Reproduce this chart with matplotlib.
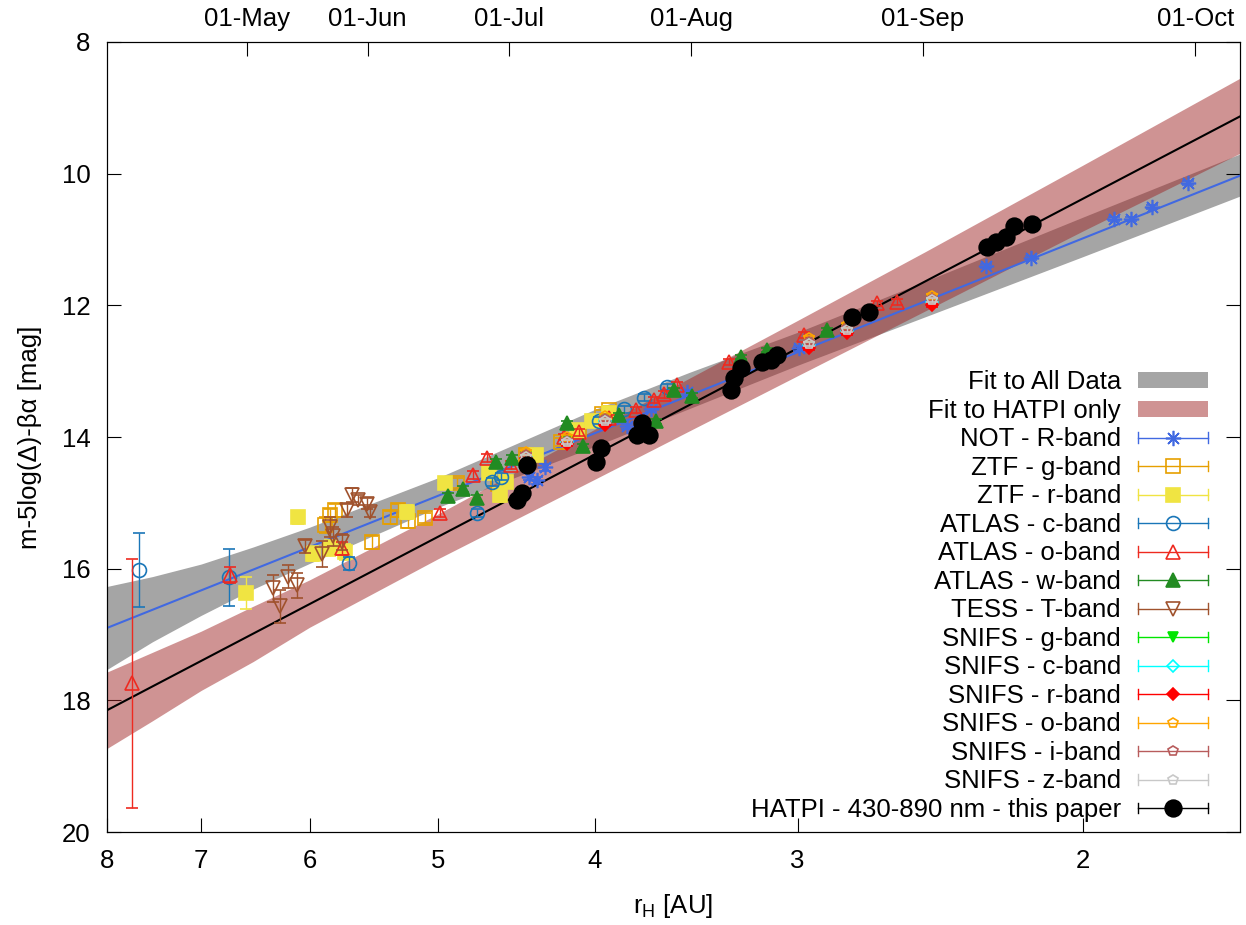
import matplotlib
matplotlib.use('Agg')
import matplotlib.pyplot as plt
from matplotlib.lines import Line2D
from matplotlib.patches import Patch
from matplotlib.legend_handler import HandlerLine2D
from matplotlib.ticker import FixedLocator, FixedFormatter, NullLocator

plt.rcParams['font.family'] = ['Liberation Sans', 'DejaVu Sans']
plt.rcParams['mathtext.fontset'] = 'custom'
plt.rcParams['mathtext.rm'] = 'Liberation Sans'
plt.rcParams['font.size'] = 18.5

# ---- fits (lines and confidence bands) ----
line_r = [8.0, 1.6]
all_line_m = [16.90, 10.03]
hat_line_m = [18.15, 9.13]

band_r = [8, 7.5, 7, 6.5, 6, 5, 4, 3.5, 3, 2.5, 2, 1.6]
all_hi = [16.27, 16.12, 15.93, 15.67, 15.37, 14.62, 13.58, 13.02, 12.41, 11.63, 10.66, 9.70]
all_lo = [17.53, 17.11, 16.71, 16.31, 15.92, 15.07, 14.14, 13.57, 12.91, 12.17, 11.26, 10.34]
hat_hi = [17.57, 17.27, 16.95, 16.57, 16.17, 15.17, 13.88, 13.11, 12.23, 11.18, 9.87, 8.55]
hat_lo = [18.73, 18.31, 17.85, 17.41, 16.89, 15.85, 14.64, 13.91, 13.07, 12.08, 10.87, 9.69]

# ---- observations ----
not_r = [4.390, 4.341, 4.292, 3.821, 3.693, 3.509, 2.994, 2.296, 2.154, 1.915, 1.867, 1.814, 1.722]
not_m = [14.60, 14.66, 14.46, 13.84, 13.58, 13.32, 12.65, 11.40, 11.28, 10.69, 10.69, 10.51, 10.14]
not_e = [0.05, 0.05, 0.05, 0.04, 0.04, 0.04, 0.04, 0.03, 0.03, 0.03, 0.03, 0.03, 0.03]

ztfg_r = [5.872, 5.831, 5.790, 5.494, 5.355, 5.295, 5.220, 5.096, 4.863, 4.594, 4.409, 4.196, 4.090, 3.959, 3.920]
ztfg_m = [15.34, 15.19, 15.11, 15.60, 15.22, 15.11, 15.28, 15.23, 14.70, 14.72, 14.28, 14.08, 13.91, 13.65, 13.59]
ztfg_e = [0.12, 0.10, 0.10, 0.10, 0.10, 0.10, 0.10, 0.08, 0.08, 0.08, 0.06, 0.06, 0.06, 0.06, 0.06]

ztfr_r = [6.568, 6.101, 5.973, 5.831, 5.708, 5.228, 4.953, 4.647, 4.581, 4.536, 4.347, 4.102, 4.015, 3.920]
ztfr_m = [16.37, 15.22, 15.77, 15.69, 15.75, 15.14, 14.70, 14.55, 14.88, 14.69, 14.28, 13.90, 13.76, 13.64]
ztfr_e = [0.24, 0.10, 0.12, 0.12, 0.12, 0.10, 0.08, 0.08, 0.10, 0.08, 0.08, 0.06, 0.06, 0.06]

atc_r = [7.645, 6.729, 5.676, 4.727, 4.627, 4.569, 3.976, 3.837, 3.730, 3.610]
atc_m = [16.02, 16.13, 15.92, 15.16, 14.69, 14.60, 13.75, 13.58, 13.40, 13.24]
atc_e = [0.56, 0.43, 0.10, 0.06, 0.06, 0.06, 0.05, 0.05, 0.05, 0.05]

ato_r = [7.721, 6.719, 5.732, 4.988, 4.760, 4.660, 4.504, 4.178, 4.090, 3.920,
         3.772, 3.677, 3.625, 3.559, 3.306, 2.973, 2.680, 2.605]
ato_m = [17.74, 16.10, 15.69, 15.16, 14.58, 14.32, 14.43, 14.00, 13.93, 13.71,
         13.59, 13.44, 13.35, 13.21, 12.86, 12.45, 11.97, 11.95]
ato_e = [1.89, 0.12, 0.10, 0.06, 0.06, 0.06, 0.06, 0.05, 0.05, 0.05,
         0.05, 0.05, 0.05, 0.05, 0.04, 0.04, 0.04, 0.04]

atw_r = [4.932, 4.828, 4.733, 4.601, 4.498, 4.160, 4.067, 3.864, 3.667, 3.574, 3.484, 3.250, 3.133, 2.877]
atw_m = [14.90, 14.79, 14.93, 14.38, 14.32, 13.79, 14.14, 13.67, 13.76, 13.29, 13.37, 12.79, 12.68, 12.38]
atw_e = [0.05, 0.05, 0.05, 0.05, 0.05, 0.04, 0.04, 0.04, 0.04, 0.04, 0.04, 0.03, 0.03, 0.03]

tess_r = [6.322, 6.259, 6.189, 6.110, 6.041, 5.897, 5.831, 5.806, 5.732, 5.692, 5.652, 5.604, 5.533, 5.509]
tess_m = [16.30, 16.57, 16.12, 16.25, 15.66, 15.78, 15.37, 15.51, 15.60, 15.11, 14.88, 14.96, 15.01, 15.14]
tess_e = [0.21, 0.25, 0.17, 0.19, 0.10, 0.20, 0.15, 0.15, 0.12, 0.10, 0.10, 0.08, 0.08, 0.08]

snifs_r = [4.409, 4.160, 3.942, 2.952, 2.797, 2.479]
snifs_g = [14.29, 14.06, 13.73, 12.59, 12.38, 11.94]
snifs_c = [14.31, 14.08, 13.76, 12.60, 12.39, 11.95]
snifs_rb = [14.32, 14.11, 13.81, 12.65, 12.42, 12.00]
snifs_o = [14.23, 14.00, 13.68, 12.50, 12.30, 11.86]
snifs_i = [14.28, 14.06, 13.73, 12.56, 12.35, 11.91]
snifs_z = [14.31, 14.08, 13.75, 12.59, 12.38, 11.92]
snifs_e = [0.03, 0.03, 0.03, 0.03, 0.03, 0.03]

hat_r = [4.466, 4.434, 4.403, 3.992, 3.964, 3.767, 3.703, 3.740, 3.297, 3.283, 3.250,
         3.155, 3.115, 3.089, 2.777, 2.711, 2.293, 2.264, 2.232, 2.207, 2.151]
hat_m = [14.96, 14.85, 14.43, 14.38, 14.17, 13.97, 13.97, 13.79, 13.29, 13.11, 12.95,
         12.86, 12.83, 12.76, 12.18, 12.10, 11.12, 11.04, 10.96, 10.80, 10.77]
hat_e = [0.02] * len(hat_r)

# top axis: dates at heliocentric distance
date_r = [6.56, 5.525, 4.517, 3.489, 2.51, 1.705]
date_labels = ['01-May', '01-Jun', '01-Jul', '01-Aug', '01-Sep', '01-Oct']

series = [
    ('NOT - R-band', not_r, not_m, not_e, '#4169e1', (8, 2, 0), 'full', 11),
    ('ZTF - g-band', ztfg_r, ztfg_m, ztfg_e, '#e69f00', 's', 'none', 10),
    ('ZTF - r-band', ztfr_r, ztfr_m, ztfr_e, '#f0e442', 's', 'full', 10),
    ('ATLAS - c-band', atc_r, atc_m, atc_e, '#1a76b8', 'o', 'none', 10),
    ('ATLAS - o-band', ato_r, ato_m, ato_e, '#ee2a20', '^', 'none', 10),
    ('ATLAS - w-band', atw_r, atw_m, atw_e, '#228b22', '^', 'full', 10),
    ('TESS - T-band', tess_r, tess_m, tess_e, '#a0522d', 'v', 'none', 10),
    ('SNIFS - g-band', snifs_r, snifs_g, snifs_e, '#00e600', 'v', 'full', 7),
    ('SNIFS - c-band', snifs_r, snifs_c, snifs_e, '#00ffff', 'D', 'none', 6),
    ('SNIFS - r-band', snifs_r, snifs_rb, snifs_e, '#ff0000', 'D', 'full', 6),
    ('SNIFS - o-band', snifs_r, snifs_o, snifs_e, '#ffa500', 'p', 'none', 7),
    ('SNIFS - i-band', snifs_r, snifs_i, snifs_e, '#b85c5c', 'p', 'none', 7),
    ('SNIFS - z-band', snifs_r, snifs_z, snifs_e, '#c8c8c8', 'p', 'none', 7),
    ('HATPI - 430-890 nm - this paper', hat_r, hat_m, hat_e, 'black', 'o', 'full', 12),
]


class ErrKey(HandlerLine2D):
    # gnuplot style key: horizontal line with end caps and a centred marker
    def create_artists(self, legend, orig_handle, xdescent, ydescent,
                       width, height, fontsize, trans):
        arts = super().create_artists(legend, orig_handle, xdescent, ydescent,
                                       width, height, fontsize, trans)
        y = (height - ydescent) / 2
        h = 0.32 * height
        for x in (-xdescent, width - xdescent):
            cap = Line2D([x, x], [y - h, y + h], color=orig_handle.get_color(), lw=1)
            cap.set_transform(trans)
            arts.append(cap)
        return arts


fig = plt.figure(figsize=(12.46, 9.25), dpi=100)
ax = fig.add_axes([0.0859, 0.1005, 0.9093, 0.8541])
ax.set_xscale('log')

ax.fill_between(band_r, all_hi, all_lo, color='#a5a5a5', lw=0, zorder=1)
ax.fill_between(band_r, hat_hi, hat_lo, color='#a02828', alpha=0.5, lw=0, zorder=2)
ax.plot(line_r, all_line_m, color='#4169e1', lw=1.5, zorder=3)
ax.plot(line_r, hat_line_m, color='black', lw=1.5, zorder=3)

handles = [Patch(facecolor='#a5a5a5', edgecolor='none', label='Fit to All Data'),
           Patch(facecolor='#a02828', alpha=0.5, edgecolor='none', label='Fit to HATPI only')]
for i, (lab, r, m, e, c, mk, fill, ms) in enumerate(series):
    mfc = c if fill == 'full' else 'none'
    ax.errorbar(r, m, yerr=e, fmt='', linestyle='none', marker=mk, color=c,
                mfc=mfc, mec=c, ms=ms, mew=1.2,
                elinewidth=1, capsize=4, capthick=1, zorder=4 + i)
    handles.append(Line2D([], [], color=c, lw=1, marker=mk, mfc=mfc, mec=c,
                          ms=ms, mew=1.2, label=lab))

ax.set_xlim(8, 1.6)
ax.set_ylim(20, 8)
ax.xaxis.set_major_locator(FixedLocator([8, 7, 6, 5, 4, 3, 2]))
ax.xaxis.set_major_formatter(FixedFormatter(['8', '7', '6', '5', '4', '3', '2']))
ax.xaxis.set_minor_locator(NullLocator())
ax.set_yticks([8, 10, 12, 14, 16, 18, 20])
ax.tick_params(axis='x', direction='in', length=10, pad=12, top=False)
ax.tick_params(axis='y', direction='in', length=10, pad=12, right=True)

ax2 = ax.twiny()
ax2.set_xscale('log')
ax2.set_xlim(8, 1.6)
ax2.xaxis.set_major_locator(FixedLocator(date_r))
ax2.xaxis.set_major_formatter(FixedFormatter(date_labels))
ax2.xaxis.set_minor_locator(NullLocator())
ax2.tick_params(axis='x', direction='in', length=10, pad=8)

ax.set_xlabel(r'r$_{\rm H}$ [AU]', labelpad=14)
ax.set_ylabel('m-5log(\u0394)-\u03b2\u03b1 [mag]', labelpad=14)

hmap = {h: ErrKey() for h in handles if isinstance(h, Line2D)}
ax.legend(handles=handles, handler_map=hmap, loc='lower right',
          bbox_to_anchor=(0.972, 0.013), markerfirst=False, frameon=False,
          numpoints=1, handlelength=2.75, handletextpad=0.65, labelspacing=0.175,
          borderpad=0, borderaxespad=0, handleheight=0.6)

fig.savefig('out.png', dpi=100)
